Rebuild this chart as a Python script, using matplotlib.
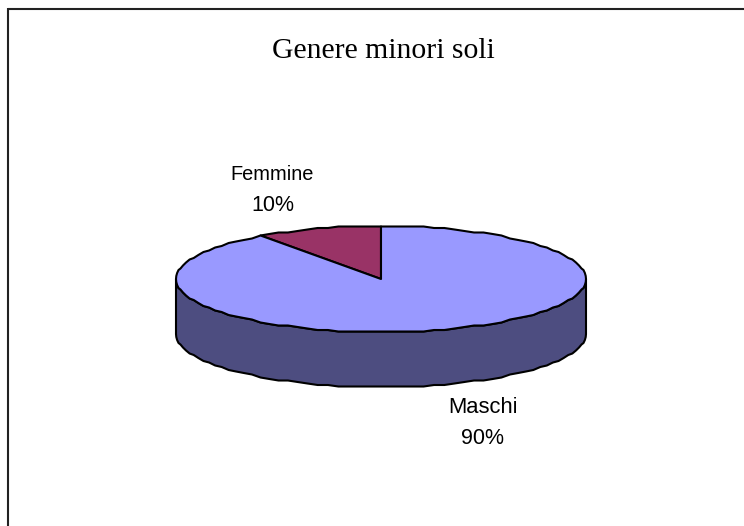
import numpy as np
import matplotlib
matplotlib.use("Agg")
import matplotlib.pyplot as plt
from matplotlib.patches import Polygon

# Data
categories = ["Femmine", "Maschi"]
values = [10, 90]
percent_labels = ["10%", "90%"]
title = "Genere minori soli"

top_colors = ["#993366", "#9999FF"]
side_color = "#4D4D80"

cx, cy = 381, 279
rx, ry = 205, 53
depth = 55

fig = plt.figure(figsize=(7.44, 5.26), dpi=100)
ax = fig.add_axes([0, 0, 1, 1])
ax.set_xlim(0, 744)
ax.set_ylim(526, 0)
ax.axis("off")

# chart frame: only top and left edges are visible in the crop
ax.plot([8, 744], [9, 9], color="#222222", lw=1.5, solid_capstyle="butt")
ax.plot([8, 8], [8.3, 526], color="#222222", lw=1.5, solid_capstyle="butt")


def ellipse_pts(a0, a1):
    # angles clockwise from 12 o'clock, in degrees
    # short steps and a rough pixel grid give the stepped outline of the original
    n = max(int(abs(a1 - a0) / 3), 2) + 1
    t = np.radians(np.linspace(a0, a1, n))
    x = cx + rx * np.sin(t)
    y = np.round((cy - ry * np.cos(t)) / 1.5) * 1.5
    return x, y


# side of the pie (front half of the rim)
x, y = ellipse_pts(90, 270)
side = np.column_stack([np.r_[x, x[::-1]], np.r_[y, y[::-1] + depth]])
ax.add_patch(Polygon(side, closed=True, fc=side_color, ec="black", lw=1.5, joinstyle="round"))

# top slices: Femmine ends at 12 o'clock, Maschi takes the rest clockwise
total = sum(values)
start = -360 * values[0] / total
for val, col in zip(values, top_colors):
    sweep = 360 * val / total
    x, y = ellipse_pts(start, start + sweep)
    pts = np.column_stack([np.r_[cx, x], np.r_[cy, y]])
    ax.add_patch(Polygon(pts, closed=True, fc=col, ec="black", lw=1.5, joinstyle="round"))
    start += sweep

ax.text(383.5, 58, title, family="Liberation Serif", fontsize=21.3, ha="center", va="baseline", color="black")

label_font = dict(family="Liberation Sans", ha="center", va="baseline", color="black")
ax.text(272.5, 180, categories[0], fontsize=14.4, **label_font)
ax.text(272.5, 211, percent_labels[0], fontsize=15.5, **label_font)
ax.text(482.5, 413, categories[1], fontsize=15.8, **label_font)
ax.text(482, 444, percent_labels[1], fontsize=15.5, **label_font)

fig.savefig("out.png", dpi=100)
